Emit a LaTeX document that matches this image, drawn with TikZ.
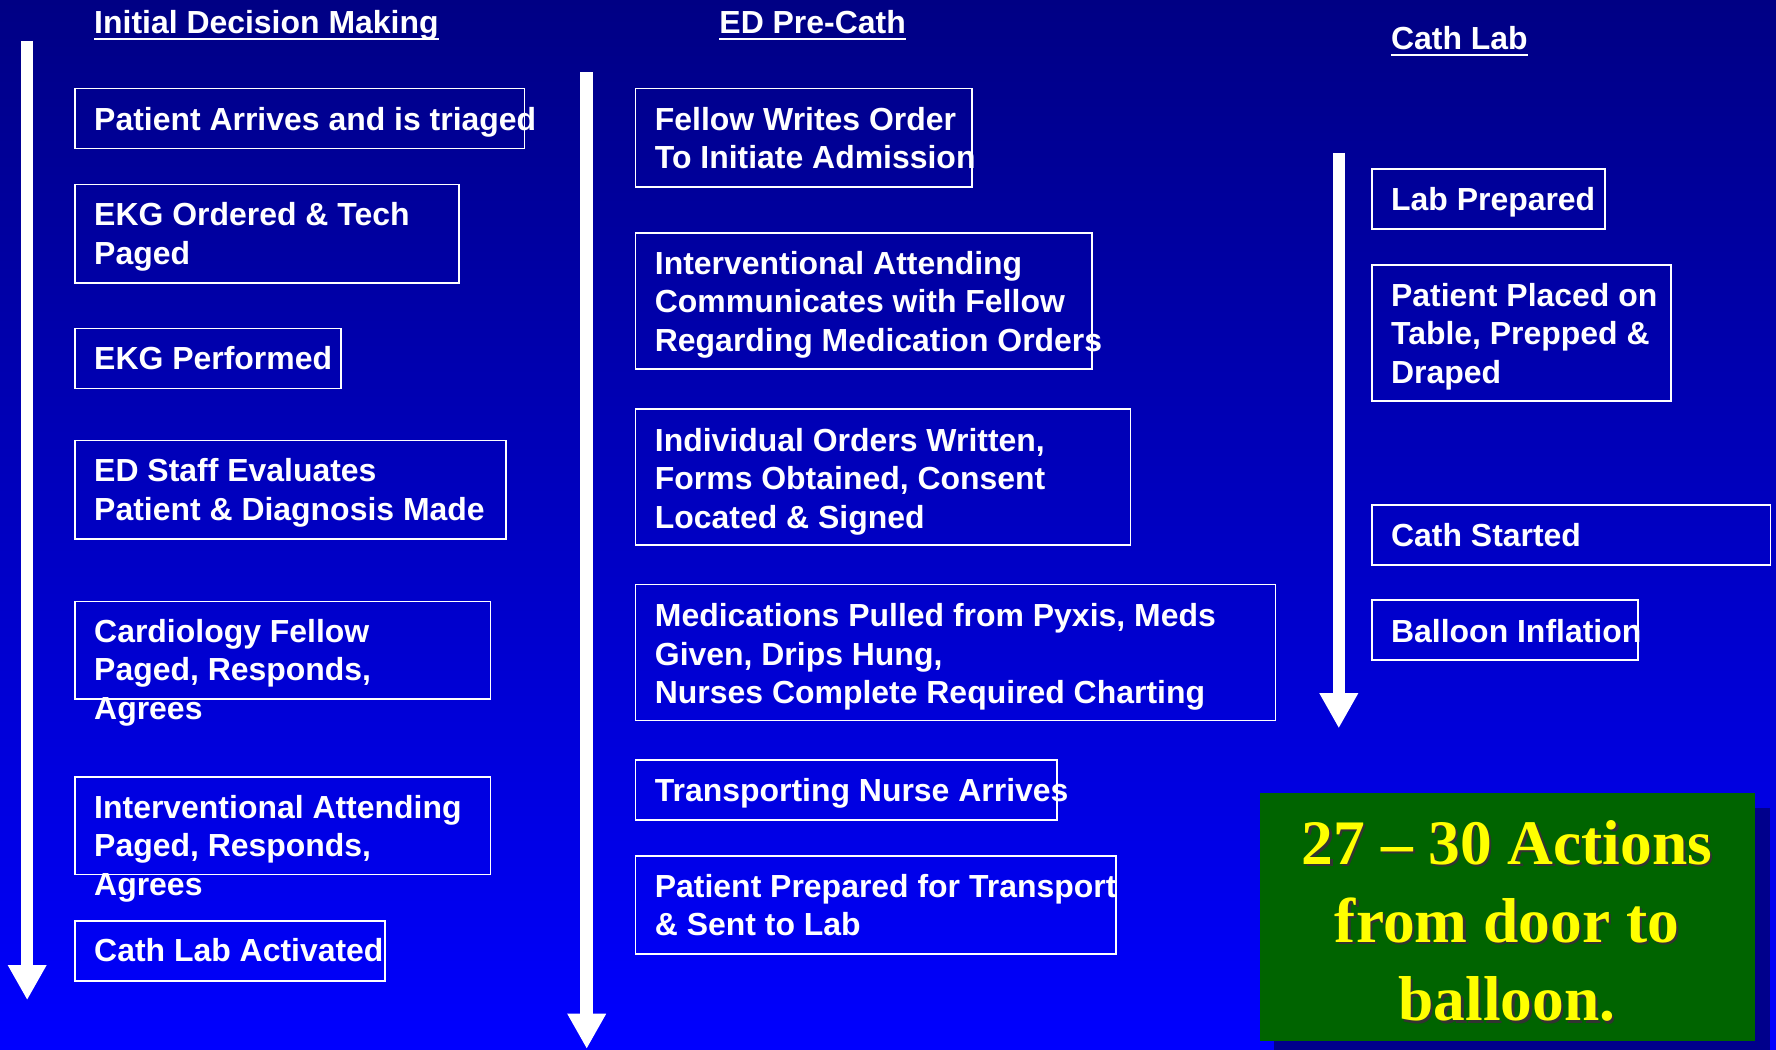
\documentclass[tikz,border=0pt]{standalone}
\usepackage{fontspec}
\setmainfont{Liberation Sans}
\newfontfamily\greenserif{Liberation Serif}
\usetikzlibrary{arrows.meta}
\definecolor{bgtop}{RGB}{0,0,132}
\definecolor{bgbot}{RGB}{0,0,255}
\definecolor{greenfill}{RGB}{0,100,0}
\definecolor{shadowblue}{RGB}{0,0,140}
\definecolor{txtyellow}{RGB}{255,255,0}
\newcommand\fl{\rule{0pt}{21pt}}
\newcommand\flowbox[5]{\node[stepbox, minimum width={(#4)-(#2)}, minimum height={(#5)-(#3)}] (#1) at (#2,#3) {};}
\begin{document}
\begin{tikzpicture}[x=1pt,y=-1pt,
  stepbox/.style={draw=white, line width=1.5pt, rectangle, inner sep=0pt, outer sep=0pt, anchor=north west},
  steptext/.style={text=white, font=\bfseries\fontsize{28.2}{34}\selectfont, align=left, inner sep=0pt, anchor=north west},
  titletext/.style={text=white, font=\bfseries\fontsize{28.2}{34}\selectfont, inner sep=0pt, anchor=base west},
  uline/.style={draw=white, line width=2.2pt},
  flowarrow/.style={draw=white, line width=11pt, -{Triangle[length=31pt, width=32pt]}},
  greentext/.style={font=\greenserif\bfseries\fontsize{56}{69}\selectfont, align=center, inner sep=0pt, anchor=north}
]
\useasboundingbox (0,0) rectangle (1568,927);
\shade[top color=bgtop, bottom color=bgbot] (0,0) rectangle (1568,927);

% titles
\node[titletext] (t1) at (83,30) {Initial Decision Making};
\node[titletext] (t2) at (635,30) {ED Pre-Cath};
\node[titletext] (t3) at (1228,44) {Cath Lab};
\foreach \t in {t1,t2,t3}{
  \draw[uline] ([yshift=-4.5pt]\t.base west) -- ([yshift=-4.5pt]\t.base east);
}

% arrows
\coordinate (la1) at (24,36);   \coordinate (la2) at (24,883);
\coordinate (ma1) at (518,64);  \coordinate (ma2) at (518,926);
\coordinate (ra1) at (1182,135); \coordinate (ra2) at (1182,643);
\draw[flowarrow] (la1) -- (la2);
\draw[flowarrow] (ma1) -- (ma2);
\draw[flowarrow] (ra1) -- (ra2);

% left column
\flowbox{L1}{66}{78}{463}{131}
\flowbox{L2}{66}{163}{405}{250}
\flowbox{L3}{66}{290}{301}{343}
\flowbox{L4}{66}{389}{447}{476}
\flowbox{L5}{66}{531}{433}{617}
\flowbox{L6}{66}{686}{433}{772}
\flowbox{L7}{66}{813}{340}{866}
\node[steptext] (L1t) at (83,94) {\fl Patient Arrives and is triaged};
\node[steptext] (L2t) at (83,178) {\fl EKG Ordered \& Tech\\Paged};
\node[steptext] (L3t) at (83,305) {\fl EKG Performed};
\node[steptext] (L4t) at (83,404) {\fl ED Staff Evaluates\\Patient \& Diagnosis Made};
\node[steptext] (L5t) at (83,546) {\fl Cardiology Fellow\\Paged, Responds,\\Agrees};
\node[steptext] (L6t) at (83,701) {\fl Interventional Attending\\Paged, Responds,\\Agrees};
\node[steptext] (L7t) at (83,828) {\fl Cath Lab Activated};

% middle column
\flowbox{M1}{561}{78}{858}{165}
\flowbox{M2}{561}{206}{964}{326}
\flowbox{M3}{561}{361}{998}{481}
\flowbox{M4}{561}{516}{1126}{636}
\flowbox{M5}{561}{671}{933}{724}
\flowbox{M6}{561}{756}{985}{842}
\node[steptext] (M1t) at (578,94) {\fl Fellow Writes Order\\To Initiate Admission};
\node[steptext] (M2t) at (578,221) {\fl Interventional Attending\\Communicates with Fellow\\Regarding Medication Orders};
\node[steptext] (M3t) at (578,377) {\fl Individual Orders Written,\\Forms Obtained, Consent\\Located \& Signed};
\node[steptext] (M4t) at (578,532) {\fl Medications Pulled from Pyxis, Meds\\Given, Drips Hung,\\Nurses Complete Required Charting};
\node[steptext] (M5t) at (578,686) {\fl Transporting Nurse Arrives};
\node[steptext] (M6t) at (578,771) {\fl Patient Prepared for Transport\\\& Sent to Lab};

% right column
\flowbox{R1}{1211}{149}{1417}{202}
\flowbox{R2}{1211}{234}{1475}{354}
\flowbox{R3}{1211}{446}{1563}{499}
\flowbox{R4}{1211}{530}{1446}{583}
\node[steptext] (R1t) at (1228,165) {\fl Lab Prepared};
\node[steptext] (R2t) at (1228,249) {\fl Patient Placed on\\Table, Prepped \&\\Draped};
\node[steptext] (R3t) at (1228,461) {\fl Cath Started};
\node[steptext] (R4t) at (1228,546) {\fl Balloon Inflation};

% green summary box
\fill[shadowblue] (1125,713) rectangle (1563,933);
\node[rectangle, fill=greenfill, inner sep=0pt, outer sep=0pt, anchor=north west, minimum width=437pt, minimum height=219pt] (G) at (1112,700) {};
\node[greentext, text=black!80] (Gs) at (1332.5,725) {\rule{0pt}{40pt}27 – 30 Actions\\from door to\\balloon.};
\node[greentext, text=txtyellow] (Gt) at (1330.5,723) {\rule{0pt}{40pt}27 – 30 Actions\\from door to\\balloon.};
\end{tikzpicture}
\end{document}
